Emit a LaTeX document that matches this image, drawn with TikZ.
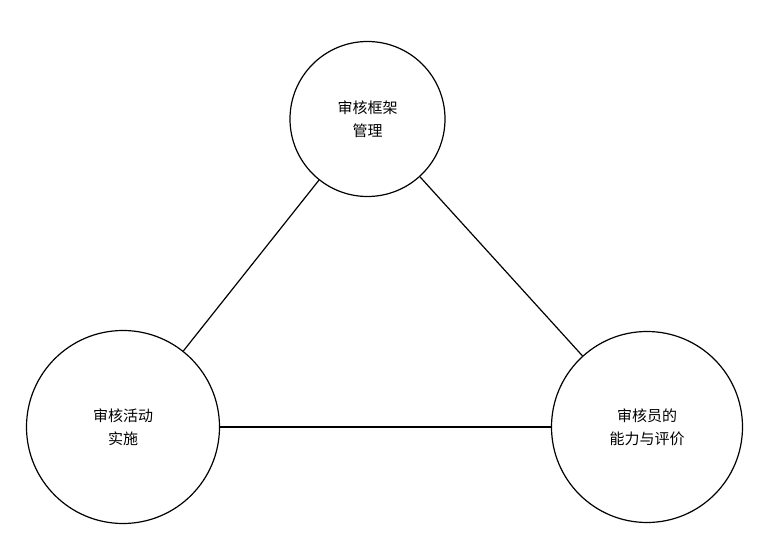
\documentclass[tikz,border=0pt]{standalone}
\usepackage{fontspec}
\newfontfamily\cjk{Noto Sans CJK SC}
\begin{document}
\begin{tikzpicture}[x=1pt,y=-1pt,thick]
	\tikzstyle{topic}=[circle, draw=black, line width=1.2pt, align=center, font=\cjk\fontsize{15}{23}\selectfont, inner sep=0pt]
	\useasboundingbox (0,0) rectangle (774,545);

	\node [topic,minimum size=155pt] (frame) at (367.5,119) {审核框架\\管理};
	\node [topic,minimum size=193pt] (act) at (123,427) {审核活动\\实施};
	\node [topic,minimum size=191pt] (eval) at (647,427) {审核员的\\能力与评价};

	\draw [line width=1.2pt] (frame) -- (act);
	\draw [line width=1.2pt] (frame) -- (eval);
	\draw [line width=1.2pt] (act) -- (eval);
\end{tikzpicture}
\end{document}
